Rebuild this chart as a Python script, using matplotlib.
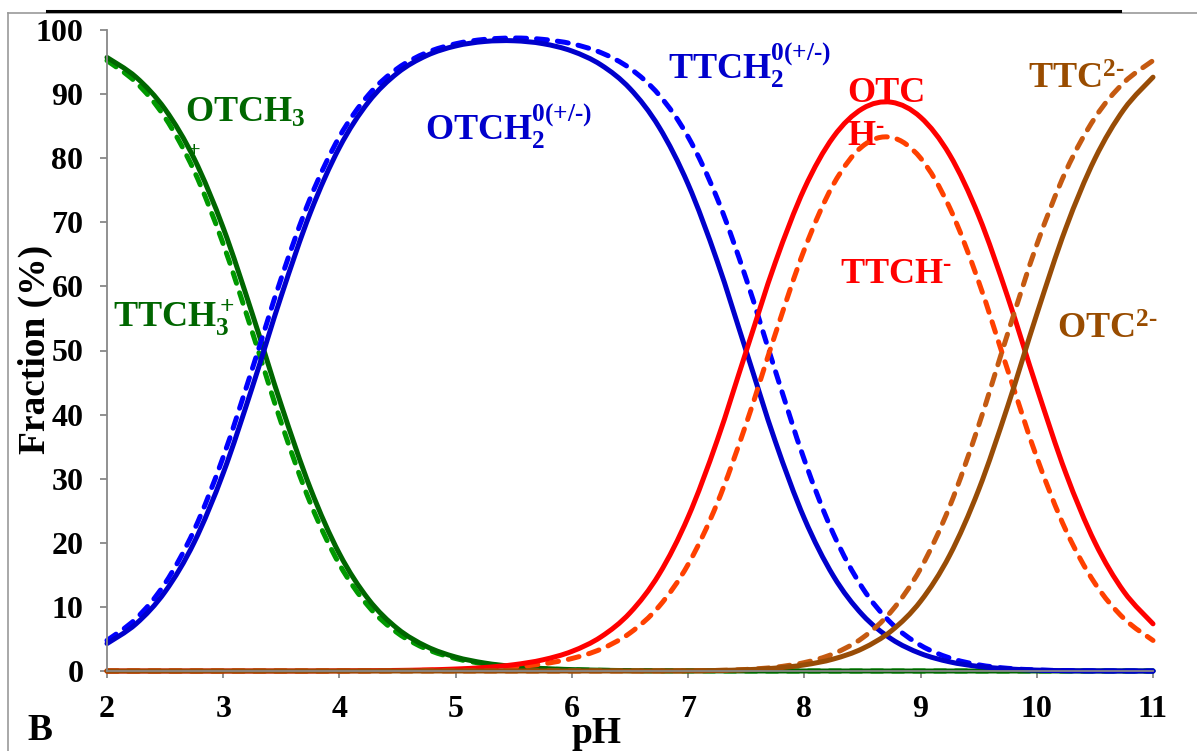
import matplotlib
matplotlib.use("Agg")
import matplotlib.pyplot as plt
from matplotlib.lines import Line2D
from matplotlib.path import Path
from matplotlib.patches import PathPatch

plt.rcParams['font.family'] = ['Liberation Serif', 'DejaVu Serif']
plt.rcParams['font.weight'] = 'bold'
plt.rcParams['mathtext.fontset'] = 'custom'
plt.rcParams['mathtext.rm'] = 'Liberation Serif:bold'
plt.rcParams['mathtext.it'] = 'Liberation Serif:bold'
plt.rcParams['mathtext.bf'] = 'Liberation Serif:bold'
plt.rcParams['mathtext.sf'] = 'Liberation Serif:bold'

# pH grid
ph = [2.00, 2.25, 2.50, 2.75, 3.00, 3.25, 3.50, 3.75, 4.00, 4.25, 4.50, 4.75,
      5.00, 5.25, 5.50, 5.75, 6.00, 6.25, 6.50, 6.75, 7.00, 7.25, 7.50, 7.75,
      8.00, 8.25, 8.50, 8.75, 9.00, 9.25, 9.50, 9.75, 10.00, 10.25, 10.50,
      10.75, 11.00]

# Oxytetracycline species (%)
otc_h3 = [95.72, 92.64, 87.62, 79.93, 69.13, 55.73, 41.45, 28.48, 18.29, 11.18,
          6.60, 3.82, 2.18, 1.24, 0.70, 0.39, 0.22, 0.12, 0.06, 0.03, 0.02, 0.01,
          0, 0, 0, 0, 0, 0, 0, 0, 0, 0, 0, 0, 0, 0, 0]
otc_h2 = [4.28, 7.36, 12.38, 20.07, 30.87, 44.27, 58.55, 71.52, 81.68, 88.77,
          93.30, 96.01, 97.51, 98.21, 98.32, 97.87, 96.72, 94.56, 90.85, 84.86,
          75.94, 63.95, 49.90, 35.83, 23.80, 14.82, 8.77, 4.99, 2.73, 1.43, 0.71,
          0.33, 0.14, 0.05, 0.02, 0.01, 0.00]
otc_h = [0, 0, 0, 0, 0, 0, 0, 0, 0.03, 0.05, 0.09, 0.17, 0.31, 0.55, 0.98, 1.74,
         3.06, 5.32, 9.08, 15.09, 24.01, 35.96, 49.90, 63.72, 75.25, 83.32, 87.73,
         88.73, 86.39, 80.54, 71.02, 58.35, 44.21, 30.86, 20.07, 12.37, 7.36]
otc_2 = [0, 0, 0, 0, 0, 0, 0, 0, 0, 0, 0, 0, 0, 0, 0, 0, 0, 0, 0.00, 0.01, 0.03,
         0.08, 0.20, 0.45, 0.95, 1.87, 3.49, 6.28, 10.88, 18.03, 28.27, 41.32,
         55.65, 69.09, 79.91, 87.62, 92.64]

# Tetracycline species (%)
ttc_h3 = [95.23, 91.82, 86.32, 78.01, 66.61, 52.87, 38.69, 26.19, 16.63, 10.08,
          5.93, 3.42, 1.95, 1.11, 0.62, 0.35, 0.20, 0.11, 0.06, 0.03, 0.02, 0.01,
          0, 0, 0, 0, 0, 0, 0, 0, 0, 0, 0, 0, 0, 0, 0]
ttc_h2 = [4.77, 8.18, 13.68, 21.99, 33.39, 47.13, 61.31, 73.81, 83.35, 89.88,
          94.01, 96.47, 97.85, 98.54, 98.75, 98.54, 97.85, 96.47, 94.01, 89.87,
          83.33, 73.74, 61.16, 46.85, 32.95, 21.40, 12.97, 7.42, 4.01, 2.04, 0.96,
          0.42, 0.17, 0.06, 0.02, 0.01, 0.00]
ttc_h = [0, 0, 0, 0, 0, 0, 0, 0, 0.02, 0.03, 0.06, 0.11, 0.20, 0.35, 0.62, 1.11,
         1.95, 3.42, 5.93, 10.08, 16.62, 26.16, 38.59, 52.56, 65.74, 75.91, 81.86,
         83.24, 80.02, 72.30, 60.73, 46.93, 33.33, 21.97, 13.68, 8.18, 4.77]
ttc_2 = [0, 0, 0, 0, 0, 0, 0, 0, 0, 0, 0, 0, 0, 0, 0, 0, 0, 0, 0.00, 0.01, 0.03,
         0.09, 0.24, 0.59, 1.31, 2.69, 5.16, 9.34, 15.97, 25.66, 38.31, 52.65,
         66.50, 77.97, 86.30, 91.81, 95.23]

x_ticks = [2, 3, 4, 5, 6, 7, 8, 9, 10, 11]
y_ticks = [0, 10, 20, 30, 40, 50, 60, 70, 80, 90, 100]


def smooth_path(xs, ys):
    """Smoothed line through the points (Catmull-Rom as cubic Beziers)."""
    n = len(xs)
    verts = [(xs[0], ys[0])]
    codes = [Path.MOVETO]
    for i in range(n - 1):
        x0, y0 = (xs[i - 1], ys[i - 1]) if i > 0 else (xs[i], ys[i])
        x1, y1 = xs[i], ys[i]
        x2, y2 = xs[i + 1], ys[i + 1]
        x3, y3 = (xs[i + 2], ys[i + 2]) if i + 2 < n else (x2, y2)
        c1 = (x1 + (x2 - x0) / 6, max(0.0, y1 + (y2 - y0) / 6))
        c2 = (x2 - (x3 - x1) / 6, max(0.0, y2 - (y3 - y1) / 6))
        verts += [c1, c2, (x2, y2)]
        codes += [Path.CURVE4] * 3
    return Path(verts, codes)


W, H = 1197, 751
fig = plt.figure(figsize=(W / 100, H / 100), dpi=100)
ax = fig.add_axes([107 / W, 1 - 671 / H, (1153 - 107) / W, (671 - 30) / H])

lw = 3.6
dash = (0, (2.2, 2.0))
series = [
    (ttc_h3, '#009900', True),
    (otc_h3, '#006600', False),
    (ttc_h2, '#0000FF', True),
    (otc_h2, '#0000CC', False),
    (ttc_h, '#FF4000', True),
    (otc_h, '#FF0000', False),
    (ttc_2, '#C55A11', True),
    (otc_2, '#984C06', False),
]
for z, (vals, col, dashed) in enumerate(series):
    patch = PathPatch(smooth_path(ph, vals), fill=False, edgecolor=col, lw=lw,
                      linestyle=dash if dashed else '-', capstyle='round',
                      joinstyle='round', transform=ax.transData,
                      clip_on=False, zorder=2 + z * 0.01)
    ax.add_patch(patch)

ax.set_xlim(2, 11)
ax.set_ylim(0, 100)
ax.set_xticks(x_ticks)
ax.set_yticks(y_ticks)
ax.tick_params(direction='out', length=5, width=1.3, colors='#888888',
               labelcolor='black', labelsize=23, pad=12)
for lab in ax.get_xticklabels() + ax.get_yticklabels():
    lab.set_fontweight('bold')
for s in ('top', 'right'):
    ax.spines[s].set_visible(False)
for s in ('left', 'bottom'):
    ax.spines[s].set_color('#888888')
    ax.spines[s].set_linewidth(1.3)

fs = 26
green, blue, red, brown = '#006600', '#0000CC', '#FF0000', '#994C00'
txt = dict(fontsize=fs, fontweight='bold', va='baseline', ha='left', zorder=1)
ax.text(2.67, 85.6, r'OTCH$_3$', color=green, **txt)
ax.text(2.70, 80.3, '+', color=green, fontsize=16, fontweight='bold',
        ha='left', va='baseline', zorder=1)
ax.text(2.05, 53.7, r'TTCH$_3^+$', color=green, **txt)
ax.text(4.74, 82.7, r'OTCH$_2^{\text{0(+/-)}}$', color=blue, **txt)
ax.text(6.83, 92.2, r'TTCH$_2^{\text{0(+/-)}}$', color=blue, **txt)
ax.text(8.37, 88.8, 'OTC', color=red, **txt)
ax.text(8.37, 82.1, r'H$^{\text{-}}$', color=red, **txt)
ax.text(8.31, 60.5, r'TTCH$^{\text{-}}$', color=red, **txt)
ax.text(9.925, 90.9, r'TTC$^{\text{2-}}$', color=brown, **txt)
ax.text(10.17, 51.9, r'OTC$^{\text{2-}}$', color=brown, **txt)

# axis titles and panel letter
fig.text(35 / W, 1 - 349 / H, 'Fraction (%)', rotation=90, fontsize=27,
         fontweight='bold', ha='center', va='center')
fig.text(596 / W, 1 - 743 / H, 'pH', fontsize=27, fontweight='bold',
         ha='center', va='baseline')
fig.text(27 / W, 1 - 740 / H, 'B', fontsize=27, fontweight='bold',
         ha='left', va='baseline')

# frame lines around the panel
fig.add_artist(Line2D([8 / W, 1], [1 - 12.5 / H, 1 - 12.5 / H],
                      transform=fig.transFigure, color='#999999', lw=1.2))
fig.add_artist(Line2D([8 / W, 8 / W], [0, 1 - 12.5 / H],
                      transform=fig.transFigure, color='#999999', lw=1.2))
fig.add_artist(Line2D([47 / W, 1120 / W], [1 - 11 / H, 1 - 11 / H],
                      transform=fig.transFigure, color='black', lw=2.2))

fig.savefig('out.png', dpi=100)
